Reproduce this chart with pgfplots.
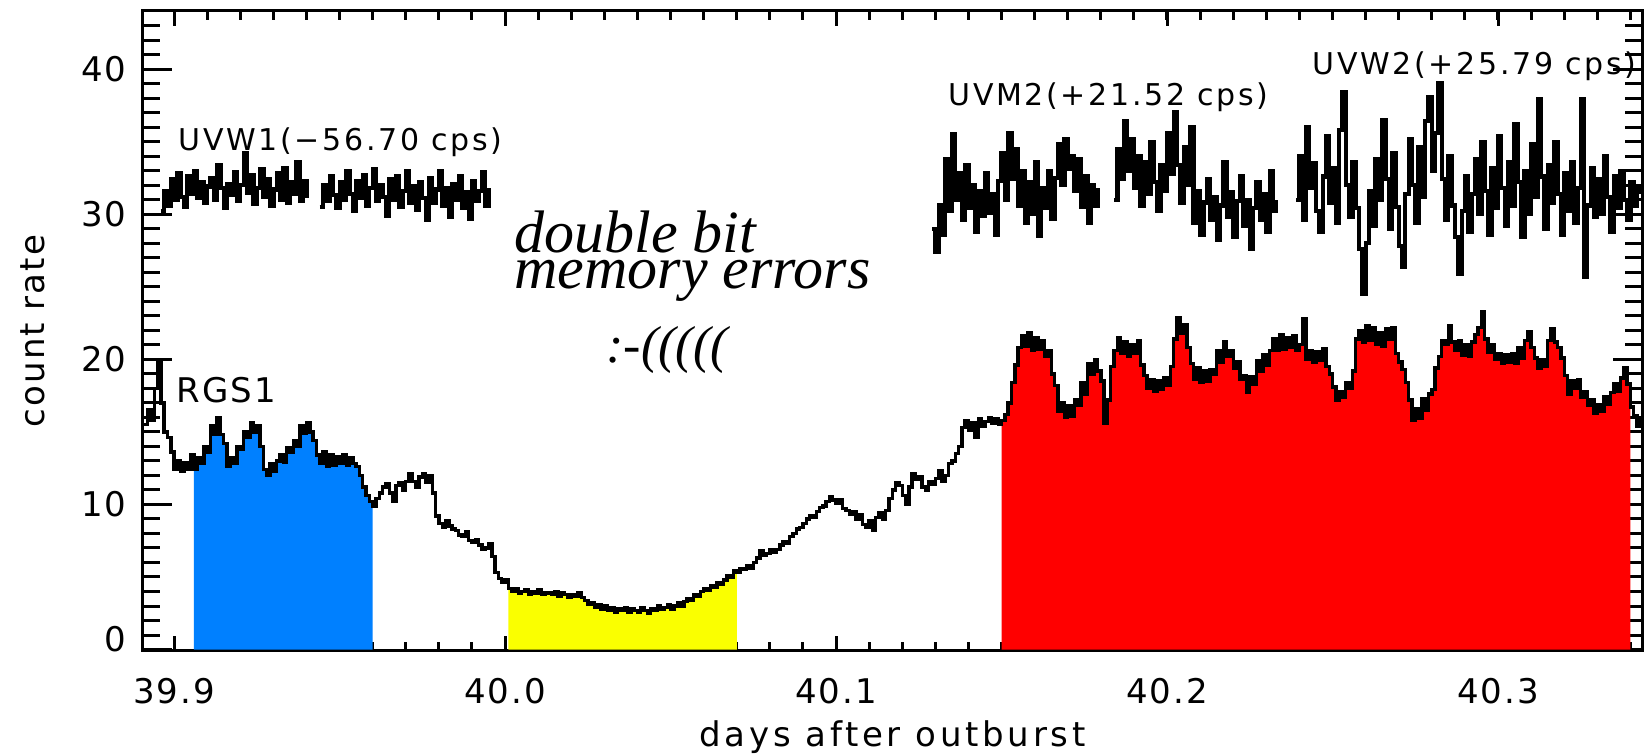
\documentclass[border=0pt]{standalone}
\usepackage{pgfplots}
\pgfplotsset{compat=1.18}
\usepackage{pgfplotstable}
\usepackage{fontspec}
\newfontfamily\idl{DejaVu Sans}[LetterSpace=6]
\newfontfamily\idlw{DejaVu Sans}[LetterSpace=11]
\newfontfamily\idlm{DejaVu Sans}[LetterSpace=9]
\newfontfamily\ital{Liberation Serif}
\definecolor{rgsblue}{RGB}{0,128,255}
\definecolor{rgsyellow}{RGB}{250,255,0}
\definecolor{rgsred}{RGB}{255,0,0}

\pgfplotstableread[row sep=\\]{
x y\\
39.891 15.5\\ 39.892 16.5\\ 39.893 15.8\\ 39.894 18.0\\ 39.895 19.8\\ 39.896 17.0\\ 39.897 15.0\\ 39.898 14.6\\ 39.899 13.6\\ 39.900 12.4\\
39.901 13.0\\ 39.902 12.3\\ 39.903 12.9\\ 39.904 12.4\\ 39.905 13.4\\ 39.906 12.4\\ 39.907 13.2\\ 39.908 12.8\\ 39.909 14.0\\ 39.910 13.6\\
39.911 15.4\\ 39.912 14.8\\ 39.913 16.0\\ 39.914 14.8\\ 39.915 14.2\\ 39.916 12.6\\ 39.917 13.2\\ 39.918 12.8\\ 39.919 14.0\\ 39.920 13.8\\
39.921 15.0\\ 39.922 14.6\\ 39.923 15.6\\ 39.924 15.0\\ 39.925 15.4\\ 39.926 14.0\\ 39.927 12.4\\ 39.928 12.0\\ 39.929 12.8\\ 39.930 12.3\\
39.931 13.0\\ 39.932 13.4\\ 39.933 12.9\\ 39.934 13.9\\ 39.935 13.6\\ 39.936 14.4\\ 39.937 14.0\\ 39.938 15.4\\ 39.939 14.9\\ 39.940 15.6\\
39.941 15.0\\ 39.942 14.4\\ 39.943 13.4\\ 39.944 12.8\\ 39.945 13.6\\ 39.946 12.6\\ 39.947 13.4\\ 39.948 12.7\\ 39.949 13.3\\ 39.950 12.8\\
39.951 13.4\\ 39.952 12.7\\ 39.953 13.2\\ 39.954 12.8\\ 39.955 12.6\\ 39.956 12.0\\ 39.957 11.2\\ 39.958 10.6\\ 39.959 10.2\\ 39.960 9.9\\
39.961 10.4\\ 39.962 10.8\\ 39.963 11.2\\ 39.964 11.4\\ 39.965 10.8\\ 39.966 10.2\\ 39.967 11.3\\ 39.968 11.5\\ 39.969 11.0\\ 39.970 11.6\\
39.971 12.1\\ 39.972 11.6\\ 39.973 11.2\\ 39.974 11.9\\ 39.975 12.1\\ 39.976 11.5\\ 39.977 12.0\\ 39.978 10.8\\ 39.979 9.2\\ 39.980 8.7\\
39.981 8.4\\ 39.982 8.9\\ 39.983 8.5\\ 39.984 8.3\\ 39.985 8.2\\ 39.986 7.9\\ 39.987 7.8\\ 39.988 8.1\\ 39.989 7.5\\ 39.990 7.4\\
39.991 7.6\\ 39.992 7.2\\ 39.993 6.9\\ 39.994 7.0\\ 39.995 7.3\\ 39.996 6.4\\ 39.997 5.3\\ 39.998 4.9\\ 39.999 4.6\\ 40.000 4.8\\
40.001 4.2\\ 40.002 4.0\\ 40.003 4.2\\ 40.004 3.9\\ 40.005 4.0\\ 40.006 4.1\\ 40.007 3.8\\ 40.008 4.0\\ 40.009 3.9\\ 40.010 4.1\\
40.011 3.8\\ 40.012 3.9\\ 40.013 3.9\\ 40.014 3.8\\ 40.015 4.0\\ 40.016 3.7\\ 40.017 3.9\\ 40.018 3.8\\ 40.019 3.6\\ 40.020 3.8\\
40.021 3.7\\ 40.022 3.9\\ 40.023 3.6\\ 40.024 3.4\\ 40.025 3.1\\ 40.026 3.2\\ 40.027 2.9\\ 40.028 3.1\\ 40.029 2.8\\ 40.030 3.0\\
40.031 2.7\\ 40.032 2.9\\ 40.033 2.6\\ 40.034 2.8\\ 40.035 2.7\\ 40.036 2.9\\ 40.037 2.6\\ 40.038 2.8\\ 40.039 2.7\\ 40.040 2.6\\
40.041 2.9\\ 40.042 2.7\\ 40.043 2.5\\ 40.044 2.8\\ 40.045 2.7\\ 40.046 3.0\\ 40.047 2.8\\ 40.048 2.9\\ 40.049 3.1\\ 40.050 2.8\\
40.051 3.0\\ 40.052 3.2\\ 40.053 3.0\\ 40.054 3.3\\ 40.055 3.5\\ 40.056 3.4\\ 40.057 3.8\\ 40.058 3.7\\ 40.059 4.0\\ 40.060 4.2\\
40.061 4.1\\ 40.062 4.4\\ 40.063 4.3\\ 40.064 4.6\\ 40.065 4.5\\ 40.066 4.8\\ 40.067 5.1\\ 40.068 5.0\\ 40.069 5.4\\ 40.070 5.3\\
40.071 5.6\\ 40.072 5.5\\ 40.073 5.8\\ 40.074 5.6\\ 40.075 6.0\\ 40.076 6.3\\ 40.077 6.8\\ 40.078 6.5\\ 40.079 6.6\\ 40.080 6.9\\
40.081 6.7\\ 40.082 6.9\\ 40.083 7.2\\ 40.084 7.4\\ 40.085 7.3\\ 40.086 7.8\\ 40.087 8.0\\ 40.088 8.3\\ 40.089 8.4\\ 40.090 8.7\\
40.091 9.0\\ 40.092 9.2\\ 40.093 9.1\\ 40.094 9.5\\ 40.095 9.8\\ 40.096 9.9\\ 40.097 10.2\\ 40.098 10.5\\ 40.099 10.3\\ 40.100 10.1\\
40.101 10.3\\ 40.102 9.7\\ 40.103 9.6\\ 40.104 9.3\\ 40.105 9.5\\ 40.106 9.0\\ 40.107 9.3\\ 40.108 8.6\\ 40.109 8.4\\ 40.110 8.9\\
40.111 8.2\\ 40.112 9.1\\ 40.113 9.4\\ 40.114 9.0\\ 40.115 9.6\\ 40.116 10.4\\ 40.117 11.0\\ 40.118 11.5\\ 40.119 11.3\\ 40.120 10.6\\
40.121 10.0\\ 40.122 11.2\\ 40.123 12.1\\ 40.124 11.7\\ 40.125 11.9\\ 40.126 11.2\\ 40.127 11.0\\ 40.128 11.6\\ 40.129 11.4\\ 40.130 11.8\\
40.131 12.3\\ 40.132 11.6\\ 40.133 12.0\\ 40.134 12.8\\ 40.135 13.0\\ 40.136 13.5\\ 40.137 14.0\\ 40.138 15.3\\ 40.139 15.8\\ 40.140 15.1\\
40.141 15.6\\ 40.142 14.6\\ 40.143 15.9\\ 40.144 15.4\\ 40.145 15.7\\ 40.146 16.0\\ 40.147 15.6\\ 40.148 15.9\\ 40.149 15.5\\ 40.150 15.8\\
40.151 16.2\\ 40.152 17.0\\ 40.153 18.4\\ 40.154 19.6\\ 40.155 20.8\\ 40.156 21.6\\ 40.157 20.9\\ 40.158 21.8\\ 40.159 20.6\\ 40.160 21.5\\
40.161 20.7\\ 40.162 21.3\\ 40.163 20.2\\ 40.164 20.6\\ 40.165 19.0\\ 40.166 18.2\\ 40.167 16.4\\ 40.168 17.0\\ 40.169 16.0\\ 40.170 16.8\\
40.171 16.1\\ 40.172 17.2\\ 40.173 16.8\\ 40.174 18.4\\ 40.175 17.6\\ 40.176 19.7\\ 40.177 19.0\\ 40.178 20.0\\ 40.179 19.2\\ 40.180 18.5\\
40.181 15.6\\ 40.182 17.2\\ 40.183 19.5\\ 40.184 20.6\\ 40.185 21.5\\ 40.186 20.4\\ 40.187 21.2\\ 40.188 20.2\\ 40.189 21.0\\ 40.190 20.4\\
40.191 21.3\\ 40.192 19.6\\ 40.193 18.9\\ 40.194 18.0\\ 40.195 18.6\\ 40.196 17.8\\ 40.197 18.5\\ 40.198 17.9\\ 40.199 18.7\\ 40.200 18.2\\
40.201 19.5\\ 40.202 21.4\\ 40.203 22.9\\ 40.204 21.8\\ 40.205 22.4\\ 40.206 20.8\\ 40.207 19.7\\ 40.208 18.6\\ 40.209 19.4\\ 40.210 18.4\\
40.211 19.2\\ 40.212 18.5\\ 40.213 19.3\\ 40.214 19.0\\ 40.215 20.6\\ 40.216 19.8\\ 40.217 21.2\\ 40.218 20.2\\ 40.219 20.6\\ 40.220 19.4\\
40.221 19.8\\ 40.222 18.6\\ 40.223 18.9\\ 40.224 17.7\\ 40.225 18.8\\ 40.226 18.3\\ 40.227 19.9\\ 40.228 19.2\\ 40.229 20.3\\ 40.230 19.6\\
40.231 20.6\\ 40.232 21.4\\ 40.233 20.6\\ 40.234 21.7\\ 40.235 20.7\\ 40.236 21.5\\ 40.237 20.8\\ 40.238 21.6\\ 40.239 20.6\\ 40.240 21.0\\
40.241 22.8\\ 40.242 20.0\\ 40.243 20.6\\ 40.244 19.8\\ 40.245 20.5\\ 40.246 19.9\\ 40.247 20.7\\ 40.248 19.5\\ 40.249 19.0\\ 40.250 18.1\\
40.251 17.2\\ 40.252 17.8\\ 40.253 17.4\\ 40.254 18.4\\ 40.255 18.0\\ 40.256 19.2\\ 40.257 21.4\\ 40.258 22.0\\ 40.259 21.2\\ 40.260 22.3\\
40.261 21.3\\ 40.262 22.2\\ 40.263 21.0\\ 40.264 21.8\\ 40.265 20.9\\ 40.266 22.1\\ 40.267 21.4\\ 40.268 22.2\\ 40.269 20.4\\ 40.270 19.8\\
40.271 19.3\\ 40.272 18.4\\ 40.273 17.2\\ 40.274 15.8\\ 40.275 16.6\\ 40.276 15.9\\ 40.277 17.3\\ 40.278 16.5\\ 40.279 17.6\\ 40.280 17.9\\
40.281 19.4\\ 40.282 20.2\\ 40.283 21.3\\ 40.284 21.0\\ 40.285 22.3\\ 40.286 21.2\\ 40.287 20.6\\ 40.288 21.3\\ 40.289 20.3\\ 40.290 21.0\\
40.291 20.2\\ 40.292 21.2\\ 40.293 21.7\\ 40.294 22.2\\ 40.295 23.3\\ 40.296 21.4\\ 40.297 20.5\\ 40.298 21.0\\ 40.299 20.0\\ 40.300 20.4\\
40.301 19.7\\ 40.302 20.3\\ 40.303 19.8\\ 40.304 20.4\\ 40.305 19.7\\ 40.306 20.8\\ 40.307 20.1\\ 40.308 21.3\\ 40.309 21.9\\ 40.310 20.8\\
40.311 20.1\\ 40.312 19.4\\ 40.313 20.0\\ 40.314 19.5\\ 40.315 21.3\\ 40.316 22.1\\ 40.317 21.2\\ 40.318 20.8\\ 40.319 20.1\\ 40.320 18.9\\
40.321 17.6\\ 40.322 18.5\\ 40.323 18.0\\ 40.324 18.6\\ 40.325 17.4\\ 40.326 17.8\\ 40.327 16.8\\ 40.328 17.2\\ 40.329 16.3\\ 40.330 16.9\\
40.331 16.4\\ 40.332 17.4\\ 40.333 16.9\\ 40.334 17.7\\ 40.335 18.3\\ 40.336 17.8\\ 40.337 18.7\\ 40.338 19.4\\ 40.339 18.3\\ 40.340 16.7\\
40.341 16.1\\ 40.342 15.4\\ 40.343 15.9\\
}\rgs

\pgfplotstableread[row sep=\\]{
x y\\
39.896 30.2\\ 39.897 31.6\\ 39.898 30.6\\ 39.899 32.4\\ 39.900 31.0\\ 39.901 32.8\\ 39.902 31.2\\ 39.903 30.5\\ 39.904 32.6\\ 39.905 31.4\\
39.906 33.0\\ 39.907 31.1\\ 39.908 32.2\\ 39.909 30.8\\ 39.910 31.9\\ 39.911 32.5\\ 39.912 31.0\\ 39.913 33.4\\ 39.914 31.8\\ 39.915 30.4\\
39.916 32.1\\ 39.917 31.3\\ 39.918 32.9\\ 39.919 30.9\\ 39.920 32.0\\ 39.921 34.2\\ 39.922 31.5\\ 39.923 32.7\\ 39.924 30.7\\ 39.925 31.8\\
39.926 33.1\\ 39.927 31.2\\ 39.928 32.4\\ 39.929 30.6\\ 39.930 31.7\\ 39.931 32.8\\ 39.932 31.0\\ 39.933 33.2\\ 39.934 30.8\\ 39.935 32.2\\
39.936 31.4\\ 39.937 33.6\\ 39.938 30.9\\ 39.939 32.3\\ 39.940 31.1\\
39.942 nan\\
39.944 30.5\\ 39.945 32.0\\ 39.946 30.9\\ 39.947 32.6\\ 39.948 31.3\\ 39.949 30.4\\ 39.950 32.2\\ 39.951 31.0\\ 39.952 33.0\\ 39.953 31.4\\
39.954 30.2\\ 39.955 32.3\\ 39.956 31.1\\ 39.957 32.7\\ 39.958 30.6\\ 39.959 31.8\\ 39.960 33.1\\ 39.961 30.9\\ 39.962 32.0\\ 39.963 31.2\\
39.964 29.9\\ 39.965 32.4\\ 39.966 31.0\\ 39.967 32.6\\ 39.968 30.5\\ 39.969 31.6\\ 39.970 33.0\\ 39.971 30.8\\ 39.972 31.9\\ 39.973 30.3\\
39.974 32.2\\ 39.975 31.1\\ 39.976 29.6\\ 39.977 32.5\\ 39.978 30.8\\ 39.979 31.7\\ 39.980 33.0\\ 39.981 30.6\\ 39.982 31.8\\ 39.983 29.8\\
39.984 32.1\\ 39.985 31.0\\ 39.986 32.6\\ 39.987 30.4\\ 39.988 31.5\\ 39.989 29.7\\ 39.990 32.3\\ 39.991 30.9\\ 39.992 31.6\\ 39.993 32.9\\
39.994 30.6\\ 39.995 31.8\\
40.060 nan\\
40.129 29.0\\ 40.130 27.4\\ 40.131 30.6\\ 40.132 28.6\\ 40.133 33.8\\ 40.134 30.2\\ 40.135 35.5\\ 40.136 31.0\\ 40.137 32.8\\ 40.138 29.6\\
40.139 33.4\\ 40.140 30.4\\ 40.141 32.0\\ 40.142 28.8\\ 40.143 31.6\\ 40.144 29.9\\ 40.145 32.8\\ 40.146 30.1\\ 40.147 31.4\\ 40.148 28.6\\
40.149 32.3\\ 40.150 34.2\\ 40.151 31.0\\ 40.152 35.6\\ 40.153 32.4\\ 40.154 34.5\\ 40.155 30.6\\ 40.156 33.0\\ 40.157 29.4\\ 40.158 32.2\\
40.159 30.0\\ 40.160 33.6\\ 40.161 28.5\\ 40.162 31.8\\ 40.163 30.4\\ 40.164 33.0\\ 40.165 29.7\\ 40.166 32.5\\ 40.167 34.8\\ 40.168 32.0\\
40.169 35.2\\ 40.170 33.1\\ 40.171 34.0\\ 40.172 31.6\\ 40.173 33.8\\ 40.174 30.5\\ 40.175 32.6\\ 40.176 29.4\\ 40.177 32.0\\ 40.178 30.6\\
40.179 31.8\\
40.181 nan\\
40.184 31.0\\ 40.185 34.5\\ 40.186 32.4\\ 40.187 36.4\\ 40.188 33.0\\ 40.189 35.2\\ 40.190 31.8\\ 40.191 34.0\\ 40.192 30.6\\ 40.193 33.6\\
40.194 31.4\\ 40.195 35.0\\ 40.196 32.2\\ 40.197 30.2\\ 40.198 33.4\\ 40.199 31.6\\ 40.200 35.6\\ 40.201 32.8\\ 40.202 37.0\\ 40.203 33.4\\
40.204 30.8\\ 40.205 34.6\\ 40.206 32.0\\ 40.207 36.0\\ 40.208 29.4\\ 40.209 31.6\\ 40.210 28.6\\ 40.211 30.8\\ 40.212 32.4\\ 40.213 29.6\\
40.214 31.2\\ 40.215 28.2\\ 40.216 30.6\\ 40.217 33.6\\ 40.218 29.8\\ 40.219 31.5\\ 40.220 28.4\\ 40.221 30.9\\ 40.222 32.6\\ 40.223 29.2\\
40.224 31.0\\ 40.225 27.6\\ 40.226 30.4\\ 40.227 32.2\\ 40.228 29.6\\ 40.229 31.4\\ 40.230 28.8\\ 40.231 33.0\\ 40.232 30.2\\ 40.233 31.0\\
40.236 nan\\
40.239 31.0\\ 40.240 34.0\\ 40.241 29.6\\ 40.242 36.0\\ 40.243 31.8\\ 40.244 33.5\\ 40.245 30.2\\ 40.246 28.8\\ 40.247 32.6\\ 40.248 35.4\\
40.249 30.8\\ 40.250 33.2\\ 40.251 29.4\\ 40.252 35.8\\ 40.253 38.4\\ 40.254 32.0\\ 40.255 29.8\\ 40.256 33.6\\ 40.257 30.4\\ 40.258 27.6\\
40.259 24.5\\ 40.260 28.0\\ 40.261 31.6\\ 40.262 29.2\\ 40.263 33.8\\ 40.264 31.0\\ 40.265 36.5\\ 40.266 32.4\\ 40.267 29.0\\ 40.268 34.2\\
40.269 30.5\\ 40.270 27.8\\ 40.271 26.4\\ 40.272 31.4\\ 40.273 35.2\\ 40.274 32.0\\ 40.275 29.4\\ 40.276 34.6\\ 40.277 31.2\\ 40.278 36.4\\
40.279 38.1\\ 40.280 33.0\\ 40.281 35.6\\ 40.282 39.0\\ 40.283 32.4\\ 40.284 29.6\\ 40.285 34.0\\ 40.286 30.6\\ 40.287 28.4\\ 40.288 25.9\\
40.289 30.2\\ 40.290 32.6\\ 40.291 28.8\\ 40.292 31.4\\ 40.293 33.8\\ 40.294 30.0\\ 40.295 35.0\\ 40.296 31.6\\ 40.297 28.6\\ 40.298 33.2\\
40.299 30.4\\ 40.300 35.4\\ 40.301 31.8\\ 40.302 29.2\\ 40.303 33.6\\ 40.304 30.6\\ 40.305 36.2\\ 40.306 32.2\\ 40.307 28.4\\ 40.308 33.0\\
40.309 30.0\\ 40.310 34.8\\ 40.311 31.2\\ 40.312 37.9\\ 40.313 32.6\\ 40.314 29.0\\ 40.315 33.4\\ 40.316 30.8\\ 40.317 35.0\\ 40.318 31.4\\
40.319 28.6\\ 40.320 32.8\\ 40.321 30.2\\ 40.322 33.6\\ 40.323 29.4\\ 40.324 31.8\\ 40.325 37.9\\ 40.326 25.7\\ 40.327 30.6\\ 40.328 33.2\\
40.329 29.8\\ 40.330 32.4\\ 40.331 30.0\\ 40.332 34.0\\ 40.333 31.2\\ 40.334 28.8\\ 40.335 32.6\\ 40.336 30.4\\ 40.337 33.0\\ 40.338 31.0\\
40.339 29.6\\ 40.340 32.2\\ 40.341 30.6\\ 40.342 31.8\\ 40.343 31.4\\
}\uv

\begin{document}
\begin{tikzpicture}
\begin{axis}[
  at={(0,0)}, anchor=south west,
  width=749.5pt, height=320pt, scale only axis,
  xmin=39.8906, xmax=40.3435, ymin=-0.1, ymax=44,
  clip=false,
  unbounded coords=jump,
  axis line style={line width=1.5pt},
  xtick={39.9,40.0,40.1,40.2,40.3},
  xticklabels={39.9,40.0,40.1,40.2,40.3},
  minor xtick={39.91,39.92,...,40.34},
  ytick={0,10,20,30,40},
  yticklabels={\raisebox{11pt}{0},10,20,30,40},
  minor ytick={1,2,...,43},
  tick align=inside,
  xtick style={black,line width=1.5pt,/pgfplots/major tick length=7.5pt,/pgfplots/minor tick length=4.5pt},
  ytick style={black,line width=1.5pt,/pgfplots/major tick length=14.5pt,/pgfplots/minor tick length=8.5pt},
  ticklabel style={font=\idl\fontsize{17}{17}\selectfont, inner sep=0pt},
  xticklabel shift=13.5pt,
  yticklabel shift=8pt,
  xlabel={days after outburst},
  ylabel={count rate},
  every axis x label/.style={at={(axis description cs:0.5,-0.15)}, anchor=base, font=\idlw\fontsize{17}{17}\selectfont},
  every axis y label/.style={at={(axis description cs:-0.06604,0.5)}, anchor=base, rotate=90, font=\idl\fontsize{17}{17}\selectfont},
]
\addplot[draw=none, fill=rgsblue, const plot, restrict x to domain=39.9055:39.9605] table {\rgs} \closedcycle;
\addplot[draw=none, fill=rgsyellow, const plot, restrict x to domain=40.0005:40.0705] table {\rgs} \closedcycle;
\addplot[draw=none, fill=rgsred, const plot, restrict x to domain=40.1495:40.3405] table {\rgs} \closedcycle;
\addplot[black, line width=1.7pt, const plot] table {\rgs};
\addplot[black, line width=2.1pt, const plot] table {\uv};

\node[anchor=base west, inner sep=0pt, font=\idl\fontsize{17}{17}\selectfont] at (axis cs:39.9006,17.0) {RGS1};
\node[anchor=base west, inner sep=0pt, font=\idlm\fontsize{15}{15}\selectfont] at (axis cs:39.9012,34.4) {UVW1(−56.70 cps)};
\node[anchor=base west, inner sep=0pt, font=\idlm\fontsize{15}{15}\selectfont] at (axis cs:40.1338,37.5) {UVM2(+21.52 cps)};
\node[anchor=base west, inner sep=0pt, font=\idlm\fontsize{15}{15}\selectfont] at (axis cs:40.2438,39.6) {UVW2(+25.79 cps)};
\node[anchor=north west, inner sep=0pt, align=left, font=\ital\itshape\fontsize{30}{18.15}\selectfont] at (axis cs:40.0027,30.25) {double bit\\memory errors};
\node[anchor=base west, inner sep=0pt, font=\ital\itshape\fontsize{26}{26}\selectfont] at (axis cs:40.0305,19.75) {:-(((((};
\end{axis}
\pgfresetboundingbox
\path[use as bounding box] (-71.5pt,-52pt) rectangle (751pt,325.5pt);
\end{tikzpicture}
\end{document}
